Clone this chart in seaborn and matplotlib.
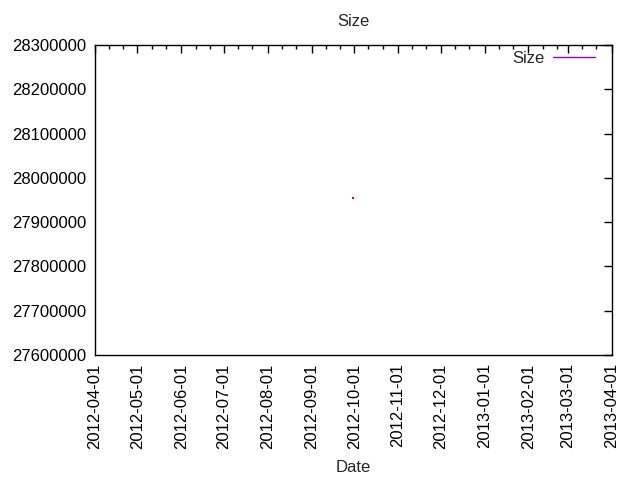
import matplotlib
matplotlib.use("Agg")
import matplotlib.pyplot as plt
import matplotlib.dates as mdates
import matplotlib.ticker as mticker
from matplotlib.lines import Line2D
import seaborn as sns
import pandas as pd
import numpy as np

dates = ["2012-09-30"]
sizes = [27955000]

df = pd.DataFrame({"Date": pd.to_datetime(dates), "Size": sizes})

sns.set_style("white")
plt.rcParams["font.family"] = ["Liberation Sans", "DejaVu Sans"]

fig = plt.figure(figsize=(6.4, 4.8), dpi=100)
ax = fig.add_axes([95/640, 1-355/480, (612-95)/640, (355-45)/480])

color = "#9400D3"
sns.lineplot(data=df, x="Date", y="Size", ax=ax, color=color, marker="s",
             markersize=1.6, markeredgewidth=0, linewidth=1, legend=False)

ax.set_xlim(pd.Timestamp("2012-04-01"), pd.Timestamp("2013-04-01"))
ax.set_ylim(27600000, 28300000)
ax.yaxis.set_major_locator(mticker.MultipleLocator(100000))
ax.yaxis.set_major_formatter(mticker.FuncFormatter(lambda v, p: f"{int(round(v))}"))
ax.xaxis.set_major_locator(mdates.MonthLocator(bymonthday=1))
ax.xaxis.set_major_formatter(mdates.DateFormatter("%Y-%m-%d"))
ax.xaxis.set_minor_locator(mdates.DayLocator(bymonthday=[11, 21]))

for s in ax.spines.values():
    s.set_color("black")
    s.set_linewidth(1)

fs = 12
ax.tick_params(axis="both", which="both", direction="in", top=True, right=True,
               colors="black", labelsize=fs)
ax.tick_params(axis="both", which="major", length=6, width=1)
ax.tick_params(axis="x", which="minor", length=3, width=1)
ax.tick_params(axis="x", which="major", labelrotation=90, pad=6)
ax.tick_params(axis="y", which="major", pad=6)

ax.set_title("Size", fontsize=fs, pad=14)
ax.set_xlabel("Date", fontsize=fs, labelpad=8)
ax.set_ylabel("")

handle = Line2D([0], [0], color=color, linewidth=1)
ax.legend([handle], ["Size"], loc="upper right", frameon=False, markerfirst=False,
          fontsize=fs, handlelength=2.5, handletextpad=0.55,
          bbox_to_anchor=(1 - 17/517, 1 - 6/310), borderaxespad=0, borderpad=0)

fig.savefig("out.png", dpi=100)
